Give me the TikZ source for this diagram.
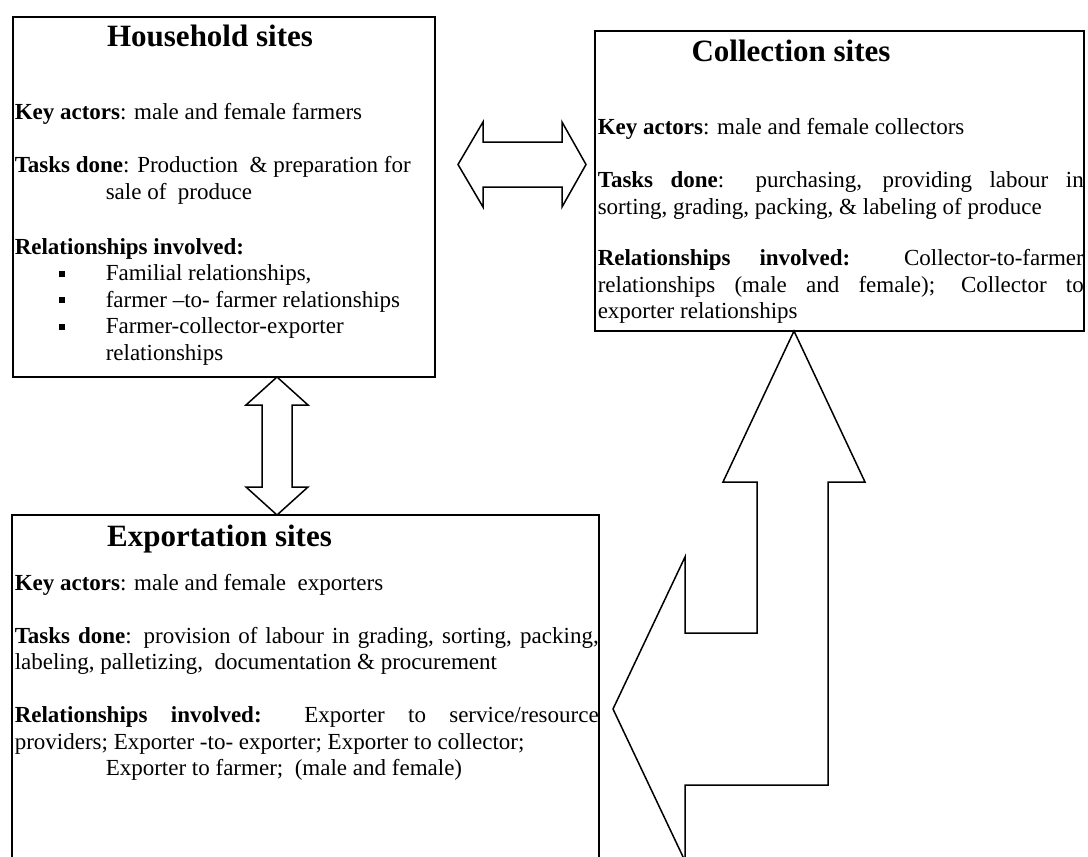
\documentclass[tikz,border=0pt]{standalone}
\usepackage{fontspec}
\setmainfont{Liberation Serif}
\begin{document}
\begin{tikzpicture}[x=1pt,y=-1pt,
  line width=1.5pt, line join=miter,
  box/.style={draw, rectangle, inner sep=0pt},
  txt/.style={anchor=base west, inner sep=0pt, font=\fontsize{23}{26.5}\selectfont},
  ttl/.style={anchor=base, inner sep=0pt, font=\fontsize{31}{36}\selectfont\bfseries},
  sq/.style={fill=black, inner sep=0pt, minimum size=6pt},
  blockarrow/.style={draw, fill=white, line width=1.5pt}
]
\useasboundingbox (0,0) rectangle (1088,857);

% boxes
\node[box, minimum width=422pt, minimum height=360pt] (house) at (224,197) {};
\node[box, minimum width=489pt, minimum height=300pt] (coll) at (839.5,181) {};
\node[box, minimum width=587pt, minimum height=365pt] (expo) at (305.5,697.5) {};

% Household text
\node[ttl] (h-title) at (210,46) {Household sites};
\node[txt] (h-key) at (14,119) {\textbf{Key actors}: male and female farmers};
\node[txt] (h-tasks) at (14,172) {\textbf{Tasks done}: Production~ \& preparation for};
\node[txt] (h-tasks2) at (105,199) {sale of~ produce};
\node[txt] (h-rel) at (14,254) {\textbf{Relationships involved:}};
\node[sq] (hb1) at (62,273.5) {};
\node[txt] (h-r1) at (105,280.5) {Familial relationships,};
\node[sq] (hb2) at (62,300) {};
\node[txt] (h-r2) at (105,307) {farmer –to- farmer relationships};
\node[sq] (hb3) at (62,326.5) {};
\node[txt] (h-r3) at (105,333.5) {Farmer-collector-exporter};
\node[txt] (h-r3b) at (105,360) {relationships};

% Collection text
\node[ttl] (c-title) at (791,61) {Collection sites};
\node[txt] (c-key) at (597,134) {\textbf{Key actors}: male and female collectors};
\node[txt] (c-tasks) at (597,187) {\makebox[486pt][s]{\textbf{Tasks done}: purchasing, providing labour in}};
\node[txt] (c-tasks2) at (597,214) {sorting, grading, packing, \& labeling of produce};
\node[txt] (c-rel) at (597,265) {\makebox[486pt][s]{\textbf{Relationships involved:} Collector-to-farmer}};
\node[txt] (c-rel2) at (597,292) {\makebox[486pt][s]{relationships (male and female); Collector to}};
\node[txt] (c-rel3) at (597,318.5) {exporter relationships};

% Exportation text
\node[ttl] (e-title) at (219.5,546) {Exportation sites};
\node[txt] (e-key) at (14,590) {\textbf{Key actors}: male and female~ exporters};
\node[txt] (e-tasks) at (14,643) {\makebox[584pt][s]{\textbf{Tasks done}: provision of labour in grading, sorting, packing,}};
\node[txt] (e-tasks2) at (14,669.5) {labeling, palletizing,~ documentation \& procurement};
\node[txt] (e-rel) at (14,722.5) {\makebox[584pt][s]{\textbf{Relationships involved:} Exporter to service/resource}};
\node[txt] (e-rel2) at (14,749) {providers; Exporter -to- exporter; Exporter to collector;};
\node[txt] (e-rel3) at (105,775.5) {Exporter to farmer;~ (male and female)};

% horizontal double arrow between household and collection
\coordinate (hc-l) at (458,164.5);
\coordinate (hc-r) at (586,164.5);
\draw[blockarrow] (hc-l) -- (483,122) -- (483,142) -- (562,142) -- (562,122) -- (hc-r)
  -- (562,207) -- (562,187) -- (483,187) -- (483,207) -- cycle;

% vertical double arrow between household and exportation
\coordinate (he-t) at (277,377);
\coordinate (he-b) at (277,515);
\draw[blockarrow] (he-t) -- (308,405) -- (292,405) -- (292,487) -- (308,487) -- (he-b)
  -- (246,487) -- (262,487) -- (262,405) -- (246,405) -- cycle;

% elbow arrow: exportation <-> collection
\coordinate (ce-t) at (794,331);
\coordinate (ce-l) at (613,709);
\draw[blockarrow] (ce-t) -- (865,482) -- (828,482) -- (828,785) -- (685,785) -- (685,861)
  -- (ce-l) -- (685,557) -- (685,633) -- (757,633) -- (757,482) -- (723,482) -- cycle;
\end{tikzpicture}
\end{document}
